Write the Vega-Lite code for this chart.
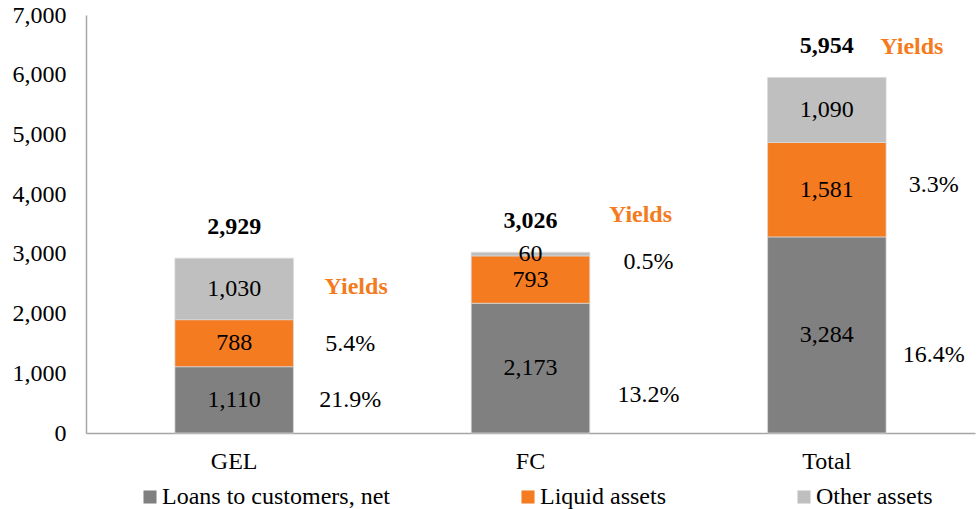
{
  "$schema": "https://vega.github.io/schema/vega-lite/v6.json",
  "width": 889,
  "height": 418,
  "autosize": {"type": "none"},
  "padding": {"left": 86, "top": 15, "right": 5, "bottom": 76},
  "config": {
    "view": {"stroke": null},
    "font": "Liberation Serif",
    "text": {"font": "Liberation Serif"},
    "axis": {"labelFont": "Liberation Serif"},
    "legend": {"labelFont": "Liberation Serif"}
  },
  "datasets": {
    "segments": [
      {"category": "GEL", "series": "Loans to customers, net", "ord": 1, "value": 1110},
      {"category": "GEL", "series": "Liquid assets", "ord": 2, "value": 788},
      {"category": "GEL", "series": "Other assets", "ord": 3, "value": 1030},
      {"category": "FC", "series": "Loans to customers, net", "ord": 1, "value": 2173},
      {"category": "FC", "series": "Liquid assets", "ord": 2, "value": 793},
      {"category": "FC", "series": "Other assets", "ord": 3, "value": 60},
      {"category": "Total", "series": "Loans to customers, net", "ord": 1, "value": 3284},
      {"category": "Total", "series": "Liquid assets", "ord": 2, "value": 1581},
      {"category": "Total", "series": "Other assets", "ord": 3, "value": 1090}
    ],
    "totals": [
      {"category": "GEL", "total": 2929},
      {"category": "FC", "total": 3026},
      {"category": "Total", "total": 5954}
    ],
    "yields": [
      {"category": "GEL", "label": "Yields", "at": 2445},
      {"category": "FC", "label": "Yields", "at": 3651},
      {"category": "Total", "label": "Yields", "at": 6464}
    ],
    "pcts": [
      {"category": "GEL", "label": "21.9%", "at": 553},
      {"category": "GEL", "label": "5.4%", "at": 1490},
      {"category": "FC", "label": "13.2%", "at": 636},
      {"category": "FC", "label": "0.5%", "at": 2864},
      {"category": "Total", "label": "16.4%", "at": 1306},
      {"category": "Total", "label": "3.3%", "at": 4153}
    ]
  },
  "encoding": {
    "x": {
      "field": "category",
      "type": "nominal",
      "sort": ["GEL", "FC", "Total"],
      "scale": {"paddingInner": 0.6, "paddingOuter": 0.3},
      "axis": {"title": null, "labelAngle": 0, "labelFont": "Liberation Serif", "labelFontSize": 24, "labelColor": "#000000", "labelPadding": 16, "ticks": false, "domainColor": "#a6a6a6", "domainWidth": 1.5}
    }
  },
  "layer": [
    {
      "data": {"name": "segments"},
      "mark": {"type": "bar", "stroke": "#d9d9d9", "strokeWidth": 0.75},
      "encoding": {
        "y": {
          "field": "value", "type": "quantitative", "stack": "zero",
          "scale": {"domain": [0, 7000]},
          "axis": {"title": null, "values": [0, 1000, 2000, 3000, 4000, 5000, 6000, 7000], "format": ",.0f", "grid": false, "ticks": false, "labelFont": "Liberation Serif", "labelFontSize": 24, "labelColor": "#000000", "labelPadding": 20, "domainColor": "#a6a6a6", "domainWidth": 1.5}
        },
        "color": {
          "field": "series", "type": "nominal",
          "scale": {"domain": ["Loans to customers, net", "Liquid assets", "Other assets"], "range": ["#808080", "#F47B20", "#BFBFBF"]},
          "legend": {"title": null, "orient": "none", "legendX": 52, "legendY": 470, "direction": "horizontal", "symbolType": "square", "symbolSize": 170, "symbolStrokeWidth": 0, "labelFont": "Liberation Serif", "labelFontSize": 24, "labelColor": "#000000", "labelLimit": 400, "columnPadding": 126, "labelOffset": 0}
        },
        "order": {"field": "ord", "type": "quantitative"}
      }
    },
    {
      "data": {"name": "segments"},
      "mark": {"type": "text", "font": "Liberation Serif", "fontSize": 24, "color": "#000000", "baseline": "middle"},
      "encoding": {
        "y": {"field": "value", "type": "quantitative", "stack": "zero", "bandPosition": 0.5},
        "text": {"field": "value", "type": "quantitative", "format": ","},
        "order": {"field": "ord", "type": "quantitative"}
      }
    },
    {
      "data": {"name": "totals"},
      "mark": {"type": "text", "font": "Liberation Serif", "fontSize": 24, "fontWeight": "bold", "color": "#000000", "baseline": "middle", "dy": -31},
      "encoding": {
        "y": {"field": "total", "type": "quantitative"},
        "text": {"field": "total", "type": "quantitative", "format": ","}
      }
    },
    {
      "data": {"name": "yields"},
      "transform": [{"filter": "datum.category === 'GEL'"}],
      "mark": {"type": "text", "font": "Liberation Serif", "fontSize": 24, "fontWeight": "bold", "color": "#F47B20", "baseline": "middle", "dx": 122},
      "encoding": {"y": {"field": "at", "type": "quantitative"}, "text": {"field": "label"}}
    },
    {
      "data": {"name": "yields"},
      "transform": [{"filter": "datum.category === 'FC'"}],
      "mark": {"type": "text", "font": "Liberation Serif", "fontSize": 24, "fontWeight": "bold", "color": "#F47B20", "baseline": "middle", "dx": 110},
      "encoding": {"y": {"field": "at", "type": "quantitative"}, "text": {"field": "label"}}
    },
    {
      "data": {"name": "yields"},
      "transform": [{"filter": "datum.category === 'Total'"}],
      "mark": {"type": "text", "font": "Liberation Serif", "fontSize": 24, "fontWeight": "bold", "color": "#F47B20", "baseline": "middle", "dx": 85},
      "encoding": {"y": {"field": "at", "type": "quantitative"}, "text": {"field": "label"}}
    },
    {
      "data": {"name": "pcts"},
      "transform": [{"filter": "datum.category === 'GEL'"}],
      "mark": {"type": "text", "font": "Liberation Serif", "fontSize": 24, "color": "#000000", "baseline": "middle", "dx": 116},
      "encoding": {"y": {"field": "at", "type": "quantitative"}, "text": {"field": "label"}}
    },
    {
      "data": {"name": "pcts"},
      "transform": [{"filter": "datum.category === 'FC'"}],
      "mark": {"type": "text", "font": "Liberation Serif", "fontSize": 24, "color": "#000000", "baseline": "middle", "dx": 118},
      "encoding": {"y": {"field": "at", "type": "quantitative"}, "text": {"field": "label"}}
    },
    {
      "data": {"name": "pcts"},
      "transform": [{"filter": "datum.category === 'Total'"}],
      "mark": {"type": "text", "font": "Liberation Serif", "fontSize": 24, "color": "#000000", "baseline": "middle", "dx": 107},
      "encoding": {"y": {"field": "at", "type": "quantitative"}, "text": {"field": "label"}}
    }
  ]
}
